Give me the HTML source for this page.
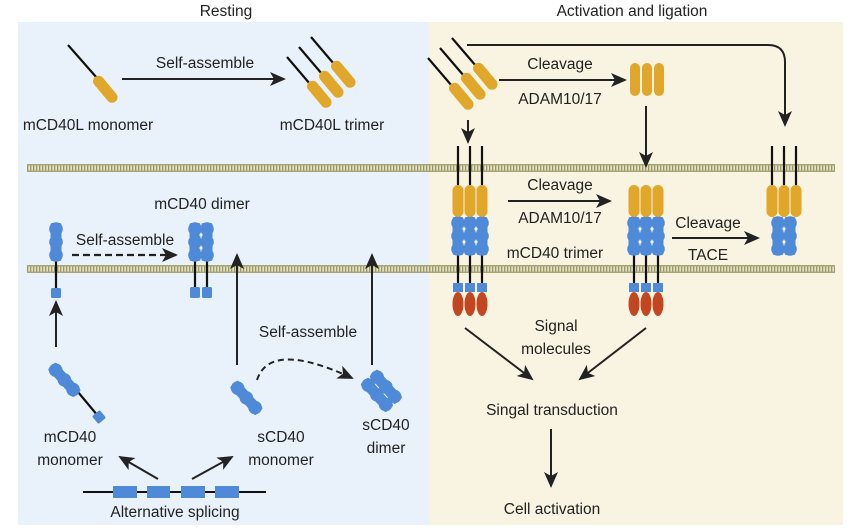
<!DOCTYPE html>
<html><head><meta charset="utf-8"><style>
html,body{margin:0;padding:0;background:#fff;}
svg{display:block;}
text{font-family:"Liberation Sans",Arial,sans-serif;font-size:15.5px;fill:#222;text-anchor:middle;}
</style></head><body>
<svg width="850" height="530" viewBox="0 0 850 530" xmlns="http://www.w3.org/2000/svg">
<defs>
<marker id="ahb" markerWidth="16" markerHeight="14" refX="14" refY="7" orient="auto" markerUnits="userSpaceOnUse">
<path d="M0,0 L16,7 L0,14 L4,7 Z" fill="#222"/></marker>
<pattern id="mem" width="3" height="10" patternUnits="userSpaceOnUse">
<rect width="3" height="10" fill="#e2e0c2"/><rect x="0" width="1.3" height="10" fill="#9c9868"/></pattern>
<g id="col"><rect x="-5.5" y="1" width="11" height="38" rx="2"/><circle cx="0" cy="7" r="6.8"/><circle cx="0" cy="20" r="6.8"/><circle cx="0" cy="33" r="6.8"/></g>
</defs>
<rect x="18" y="22" width="411" height="503" fill="#e9f2fa"/>
<rect x="429" y="22" width="414" height="503" fill="#f9f3e2"/>
<text x="226" y="16">Resting</text>
<text x="632" y="16">Activation and ligation</text>
<rect x="27" y="164" width="808" height="8" fill="url(#mem)"/>
<rect x="27" y="164" width="808" height="1.5" fill="#a9a474"/><rect x="27" y="170.5" width="808" height="1.5" fill="#a9a474"/>
<rect x="27" y="265" width="808" height="8" fill="url(#mem)"/>
<rect x="27" y="265" width="808" height="1.5" fill="#a9a474"/><rect x="27" y="271.5" width="808" height="1.5" fill="#a9a474"/>

<g stroke="#111" stroke-width="2.2">
<line x1="68" y1="45" x2="97" y2="78"/>
<line x1="287" y1="57" x2="310" y2="84"/><line x1="299" y1="47" x2="322" y2="74"/><line x1="311" y1="37" x2="334" y2="64"/>
</g>
<g fill="#e0a72a">
<rect x="-5.5" y="0" width="11" height="32" rx="5.5" transform="translate(95,77) rotate(-40)"/>
<rect x="-5.5" y="0" width="11" height="32" rx="5.5" transform="translate(309,82) rotate(-40)"/>
<rect x="-5.5" y="0" width="11" height="32" rx="5.5" transform="translate(321,72) rotate(-40)"/>
<rect x="-5.5" y="0" width="11" height="32" rx="5.5" transform="translate(333,62) rotate(-40)"/>
</g>
<line x1="122" y1="79" x2="284" y2="79" stroke="#222" stroke-width="2" marker-end="url(#ahb)"/>
<text x="205" y="68">Self-assemble</text>
<text x="88" y="130">mCD40L monomer</text>
<text x="332" y="130">mCD40L trimer</text>

<g stroke="#111" stroke-width="2.2">
<line x1="428" y1="58" x2="452" y2="86"/><line x1="440" y1="48" x2="464" y2="76"/><line x1="452" y1="38" x2="476" y2="66"/>
</g>
<g fill="#e0a72a">
<rect x="-5.5" y="0" width="11" height="32" rx="5.5" transform="translate(451,84) rotate(-40)"/>
<rect x="-5.5" y="0" width="11" height="32" rx="5.5" transform="translate(463,74) rotate(-40)"/>
<rect x="-5.5" y="0" width="11" height="32" rx="5.5" transform="translate(475,64) rotate(-40)"/>
<rect x="630" y="63" width="10" height="33" rx="5"/><rect x="642" y="63" width="10" height="33" rx="5"/><rect x="654" y="63" width="10" height="33" rx="5"/>
</g>
<line x1="499" y1="80" x2="625" y2="80" stroke="#222" stroke-width="2" marker-end="url(#ahb)"/>
<text x="560" y="69">Cleavage</text>
<text x="560" y="104">ADAM10/17</text>
<path d="M467 45 H768 Q785 45 785 62 V125" fill="none" stroke="#222" stroke-width="2" marker-end="url(#ahb)"/>
<line x1="646" y1="106" x2="646" y2="166" stroke="#222" stroke-width="2" marker-end="url(#ahb)"/>
<line x1="468" y1="120" x2="468" y2="142" stroke="#222" stroke-width="2" marker-end="url(#ahb)"/>

<g stroke="#111" stroke-width="2.2">
<line x1="458" y1="146" x2="458" y2="290"/><line x1="470" y1="146" x2="470" y2="290"/><line x1="482" y1="146" x2="482" y2="290"/>
<line x1="634" y1="250" x2="634" y2="290"/><line x1="646" y1="250" x2="646" y2="290"/><line x1="658" y1="250" x2="658" y2="290"/>
<line x1="772" y1="146" x2="772" y2="190"/><line x1="784" y1="146" x2="784" y2="190"/><line x1="796" y1="146" x2="796" y2="190"/>
</g>
<g fill="#4f8ad8">
<use href="#col" x="458" y="216"/><use href="#col" x="470" y="216"/><use href="#col" x="482" y="216"/>
<use href="#col" x="634" y="216"/><use href="#col" x="646" y="216"/><use href="#col" x="658" y="216"/>
<use href="#col" x="778" y="216"/><use href="#col" x="790" y="216"/>
<rect x="453" y="283" width="10" height="9"/><rect x="465" y="283" width="10" height="9"/><rect x="477" y="283" width="10" height="9"/>
<rect x="629" y="283" width="10" height="9"/><rect x="641" y="283" width="10" height="9"/><rect x="653" y="283" width="10" height="9"/>
</g>
<g fill="#fff" opacity="0.85">
<circle cx="464" cy="229" r="1.6"/><circle cx="476" cy="229" r="1.6"/><circle cx="464" cy="242" r="1.6"/><circle cx="476" cy="242" r="1.6"/>
<circle cx="640" cy="229" r="1.6"/><circle cx="652" cy="229" r="1.6"/><circle cx="640" cy="242" r="1.6"/><circle cx="652" cy="242" r="1.6"/>
<circle cx="784" cy="229" r="1.6"/><circle cx="784" cy="242" r="1.6"/>
</g>
<g fill="#e0a72a">
<rect x="452.5" y="185" width="11" height="32" rx="5.5"/><rect x="464.5" y="185" width="11" height="32" rx="5.5"/><rect x="476.5" y="185" width="11" height="32" rx="5.5"/>
<rect x="628.5" y="185" width="11" height="32" rx="5.5"/><rect x="640.5" y="185" width="11" height="32" rx="5.5"/><rect x="652.5" y="185" width="11" height="32" rx="5.5"/>
<rect x="766.5" y="185" width="11" height="32" rx="5.5"/><rect x="778.5" y="185" width="11" height="32" rx="5.5"/><rect x="790.5" y="185" width="11" height="32" rx="5.5"/>
</g>
<g fill="#c2461f">
<ellipse cx="458" cy="304" rx="5.5" ry="12"/><ellipse cx="470" cy="304" rx="5.5" ry="12"/><ellipse cx="482" cy="304" rx="5.5" ry="12"/>
<ellipse cx="634" cy="304" rx="5.5" ry="12"/><ellipse cx="646" cy="304" rx="5.5" ry="12"/><ellipse cx="658" cy="304" rx="5.5" ry="12"/>
</g>
<line x1="508" y1="201" x2="610" y2="201" stroke="#222" stroke-width="2" marker-end="url(#ahb)"/>
<text x="560" y="190">Cleavage</text>
<text x="560" y="223">ADAM10/17</text>
<text x="555" y="258">mCD40 trimer</text>
<line x1="672" y1="238" x2="758" y2="238" stroke="#222" stroke-width="2" marker-end="url(#ahb)"/>
<text x="708" y="228">Cleavage</text>
<text x="708" y="260">TACE</text>
<text x="556" y="331">Signal</text>
<text x="556" y="354">molecules</text>
<line x1="465" y1="328" x2="532" y2="379" stroke="#222" stroke-width="2" marker-end="url(#ahb)"/>
<line x1="646" y1="328" x2="580" y2="379" stroke="#222" stroke-width="2" marker-end="url(#ahb)"/>
<text x="552" y="415">Singal transduction</text>
<line x1="551" y1="429" x2="551" y2="486" stroke="#222" stroke-width="2" marker-end="url(#ahb)"/>
<text x="552" y="514">Cell activation</text>

<g stroke="#111" stroke-width="2.2">
<line x1="56" y1="258" x2="56" y2="290"/><line x1="195" y1="258" x2="195" y2="290"/><line x1="207" y1="258" x2="207" y2="290"/>
<line x1="78" y1="392" x2="98" y2="416"/>
</g>
<g fill="#4f8ad8">
<use href="#col" x="56" y="222"/>
<use href="#col" x="195" y="222"/><use href="#col" x="207" y="222"/>
<rect x="51" y="288" width="10" height="10" rx="1.5"/>
<rect x="190" y="287" width="10" height="11" rx="1.5"/><rect x="202" y="287" width="10" height="11" rx="1.5"/>
<g transform="translate(51,365) rotate(-42)"><use href="#col"/></g>
<rect x="94" y="412" width="10" height="10" rx="1.5" transform="rotate(-40 99 417)"/>
<g transform="translate(233,383) rotate(-42)"><use href="#col"/></g>
<g transform="translate(368,376) rotate(-42)"><use href="#col" x="-6"/><use href="#col" x="6"/></g>
</g>
<g fill="#fff" opacity="0.85"><circle cx="201" cy="235" r="1.6"/><circle cx="201" cy="248" r="1.6"/></g>
<text x="125" y="245">Self-assemble</text>
<line x1="72" y1="255" x2="176" y2="255" stroke="#222" stroke-width="2.2" stroke-dasharray="7,4" marker-end="url(#ahb)"/>
<text x="202" y="209">mCD40 dimer</text>
<line x1="237" y1="365" x2="237" y2="255" stroke="#222" stroke-width="2" marker-end="url(#ahb)"/>
<line x1="372" y1="365" x2="372" y2="255" stroke="#222" stroke-width="2" marker-end="url(#ahb)"/>
<line x1="56" y1="347" x2="56" y2="302" stroke="#222" stroke-width="2" marker-end="url(#ahb)"/>
<text x="308" y="337">Self-assemble</text>
<path d="M257 380 Q270 340 352 378" fill="none" stroke="#222" stroke-width="2" stroke-dasharray="6,4" marker-end="url(#ahb)"/>
<text x="70" y="442">mCD40</text>
<text x="70" y="465">monomer</text>
<text x="281" y="442">sCD40</text>
<text x="281" y="465">monomer</text>
<text x="386" y="430">sCD40</text>
<text x="386" y="453">dimer</text>
<line x1="158" y1="479" x2="120" y2="457" stroke="#222" stroke-width="2" marker-end="url(#ahb)"/>
<line x1="192" y1="479" x2="232" y2="457" stroke="#222" stroke-width="2" marker-end="url(#ahb)"/>
<line x1="83" y1="492" x2="266" y2="492" stroke="#111" stroke-width="2"/>
<g fill="#4f8ad8"><rect x="113" y="486" width="24" height="12"/><rect x="147" y="486" width="23" height="12"/><rect x="181" y="486" width="24" height="12"/><rect x="215" y="486" width="24" height="12"/></g>
<text x="175" y="517">Alternative splicing</text>
</svg>
</body></html>
